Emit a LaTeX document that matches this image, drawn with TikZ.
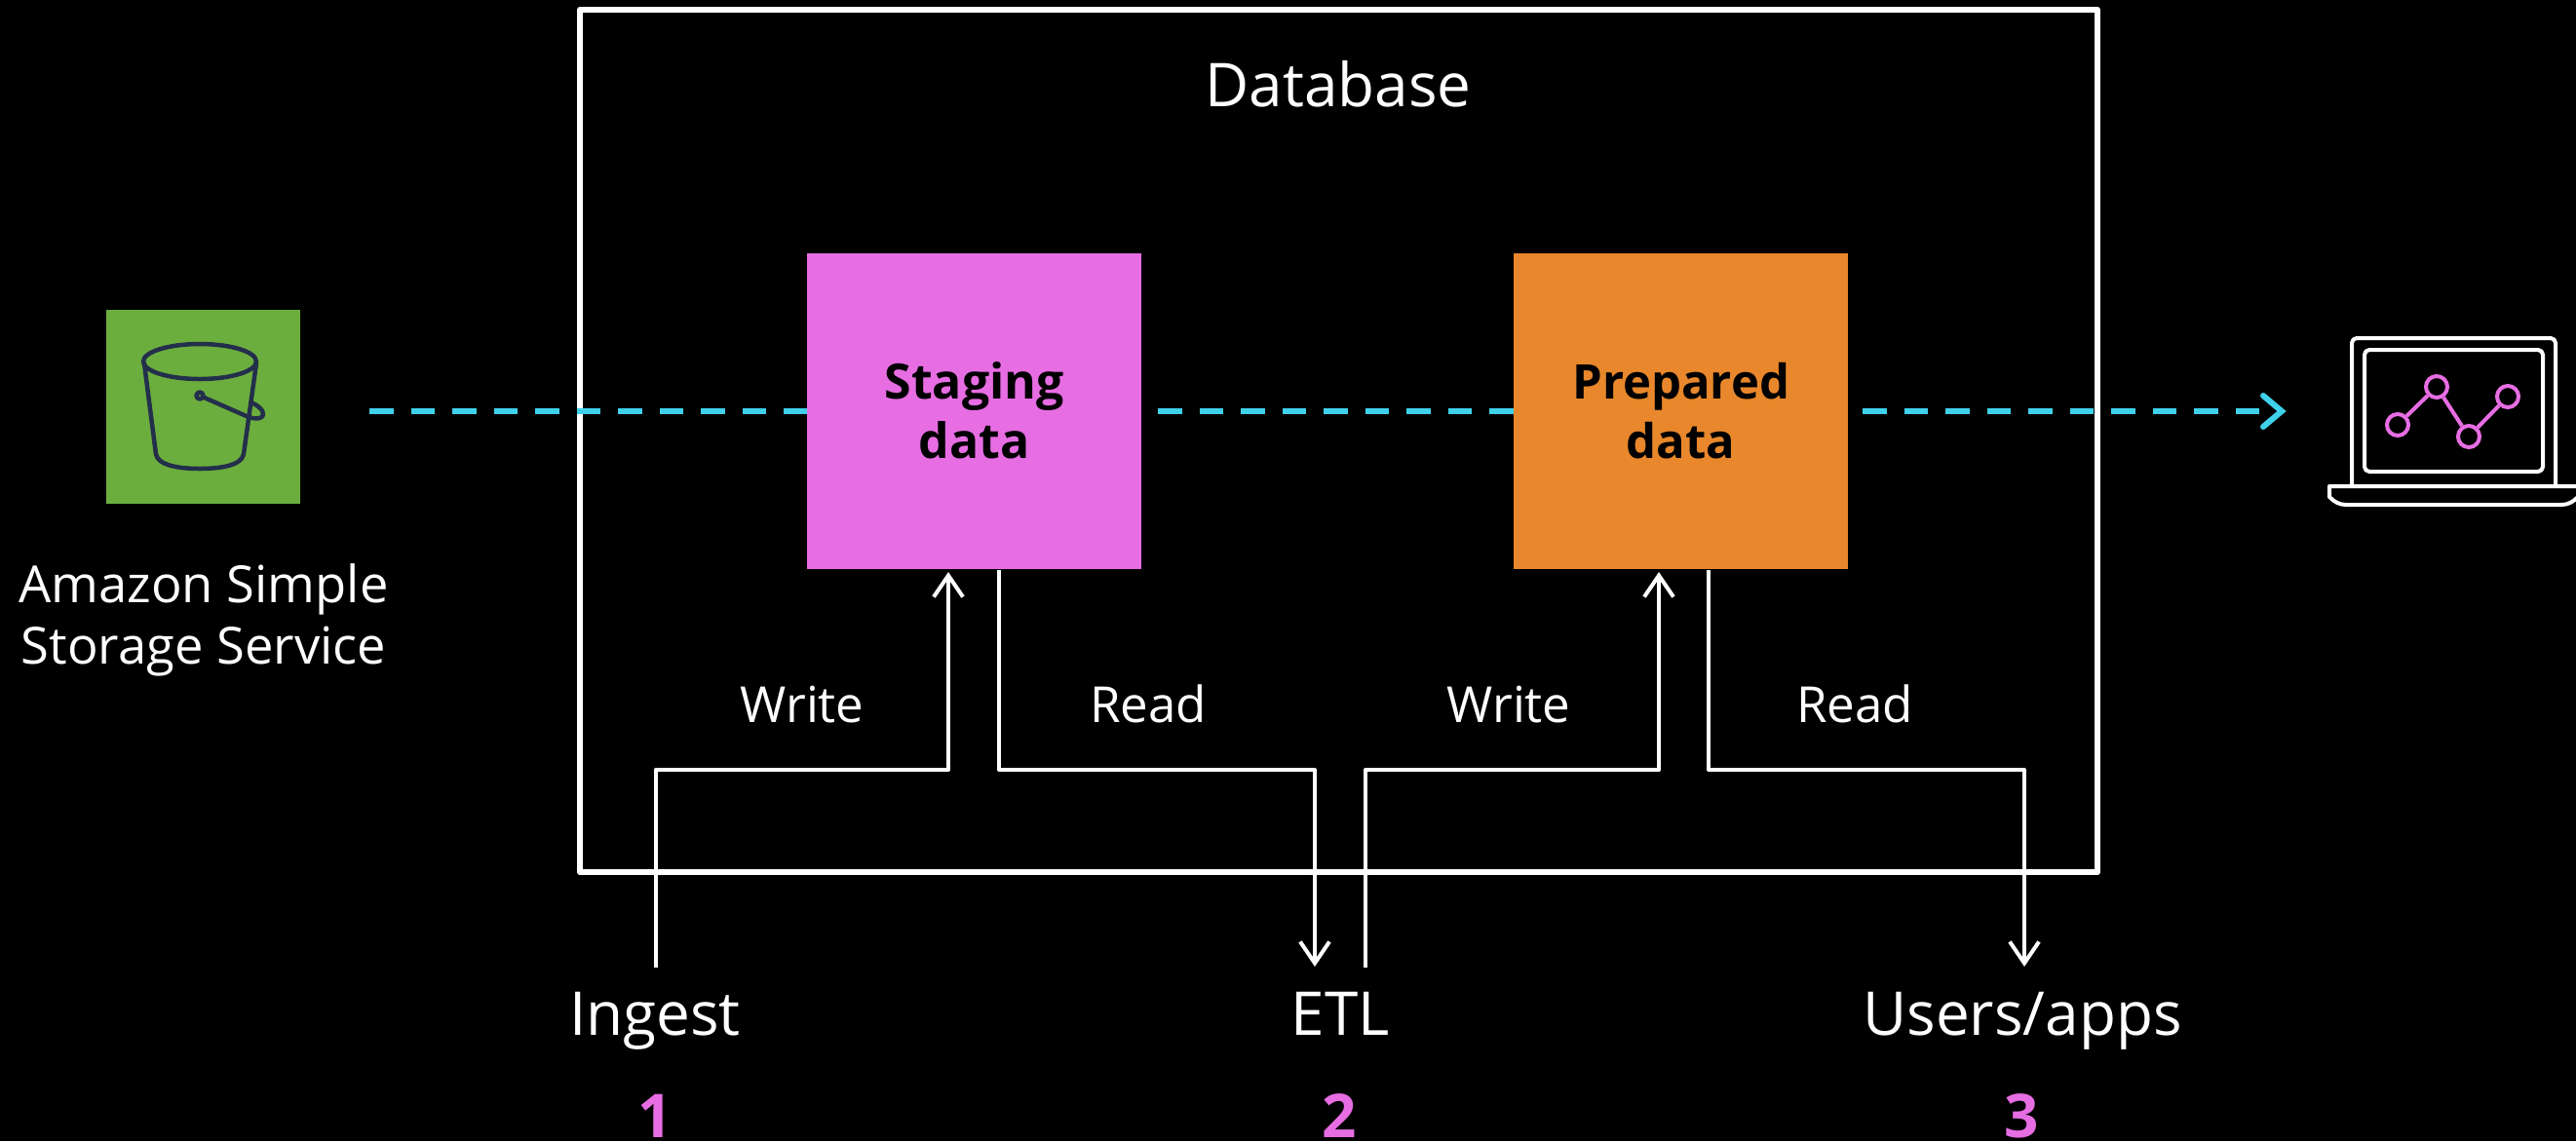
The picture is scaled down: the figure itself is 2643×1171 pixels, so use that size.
\documentclass[tikz,border=0pt]{standalone}
\usepackage{fontspec}
\setmainfont{Open Sans}
\usetikzlibrary{arrows.meta}
\definecolor{pinkc}{HTML}{E76DE3}
\definecolor{orangec}{HTML}{E8872B}
\definecolor{greenc}{HTML}{6CAE3E}
\definecolor{cyanc}{HTML}{3FD0EA}
\definecolor{navyc}{HTML}{232F4B}
\tikzset{
 x=1pt,y=-1pt,
 dbbox/.style={draw=white,line width=6pt,line join=round},
 store/.style={anchor=north west,inner sep=0pt,minimum width=343pt,minimum height=324pt,align=center,text=black},
 lbl/.style={text=white,font=\fontsize{62}{70}\selectfont,inner sep=0pt,anchor=base},
 small/.style={text=white,font=\fontsize{51}{63}\selectfont,inner sep=0pt,anchor=base},
 num/.style={text=pinkc,font=\fontsize{62}{70}\selectfont\bfseries,inner sep=0pt,anchor=base},
 wire/.style={draw=white,line width=4pt,line join=round},
 tipped/.style={wire,-{Straight Barb[length=22pt,width=30pt,line width=4pt]}},
 flow/.style={draw=cyanc,line width=6pt,dash pattern=on 24.5pt off 18pt},
 flowtip/.style={draw=cyanc,line width=6pt,line cap=round,line join=miter},
 icon/.style={draw=navyc,line width=4.5pt,line cap=round,line join=round},
 lap/.style={draw=white,line width=4pt,line join=round,rounded corners=5pt},
 dot/.style={circle,draw=pinkc,line width=4pt,minimum size=22pt,inner sep=0pt},
 graphline/.style={draw=pinkc,line width=4pt},
}
\begin{document}
\begin{tikzpicture}
\useasboundingbox[fill=black] (0,0) rectangle (2643,1171);
\draw[dbbox] (595,10) rectangle (2152,895);
\node[lbl] (dbl) at (1373,109) {Database};
\node[store,fill=pinkc,font=\fontsize{50}{61}\selectfont\bfseries] (stg) at (828,260) {\raisebox{2pt}{Staging}\\\raisebox{2pt}{data}};
\node[store,fill=orangec,font=\fontsize{49}{61}\selectfont\bfseries] (prep) at (1553,260) {\raisebox{2pt}{Prepared}\\\raisebox{2pt}{data}};
% S3
\node[anchor=north west,fill=greenc,inner sep=0pt,minimum size=199pt] (s3) at (109,318) {};
\draw[icon] (205,371) ellipse [x radius=58,y radius=18];
\draw[icon] (148,373) -- (160,466) .. controls (162,478) and (185,481) .. (205,481) .. controls (225,481) and (248,478) .. (250,466) -- (263,373);
\draw[icon] (205,406) -- (255,428) .. controls (265,431) and (270,429) .. (270,425) .. controls (270,420) and (264,416) .. (258,413);
\draw[icon,fill=greenc] (205,406) circle (3.5);
\node[small,align=center,anchor=center,font=\fontsize{52.5}{63}\selectfont] (s3l) at (209,636) {Amazon Simple\\Storage Service};
% Labels
\node[lbl] (ing) at (672,1062) {Ingest};
\node[lbl] (etl) at (1375,1062) {ETL};
\node[lbl] (usr) at (2075,1062) {Users/apps};
\node[num] (n1) at (672,1167) {1};
\node[num] (n2) at (1374,1167) {2};
\node[num] (n3) at (2074,1167) {3};
\node[small] (w1) at (823,741) {Write};
\node[small] (r1) at (1178,741) {Read};
\node[small] (w2) at (1548,741) {Write};
\node[small] (r2) at (1903,741) {Read};
% Coordinates
\coordinate (ingtop) at (672.5,993);
\coordinate (etlin) at (1349,992);
\coordinate (etlout) at (1401,993);
\coordinate (usrin) at (2077,992);
\draw[tipped] (ingtop) -- (672.5,790) -- (973,790) -- (973,587);
\draw[tipped] (1025,585) -- (1025,790) -- (1349,790) -- (etlin);
\draw[tipped] (etlout) -- (1401,790) -- (1702,790) -- (1702,587);
\draw[tipped] (1753,585) -- (1753,790) -- (2077,790) -- (usrin);
% flow
\coordinate (src) at (379,422);
\coordinate (tipc) at (2341,422);
\draw[flow] (src) -- (stg.west|-src);
\draw[flow] (1188,422) -- (prep.west|-src);
\draw[flow] (1911,422) -- (2319,422);
\draw[flowtip] (2322,406) -- (tipc) -- (2322,438);
% Laptop
\draw[lap] (2413,498) -- (2413,347) -- (2622,347) -- (2622,498);
\draw[lap] (2426,359) rectangle (2609,484);
\draw[draw=white,line width=4pt,line join=round] (2390,499) -- (2645,499) -- (2645,510) .. controls (2640,515) and (2635,518) .. (2628,518) -- (2407,518) .. controls (2400,518) and (2395,515) .. (2390,510) -- cycle;
\node[dot] (d1) at (2460,436) {};
\node[dot] (d2) at (2500,397) {};
\node[dot] (d3) at (2533,448) {};
\node[dot] (d4) at (2573,407) {};
\draw[graphline] (d1) -- (d2) (d2) -- (d3) (d3) -- (d4);
\end{tikzpicture}
\end{document}
